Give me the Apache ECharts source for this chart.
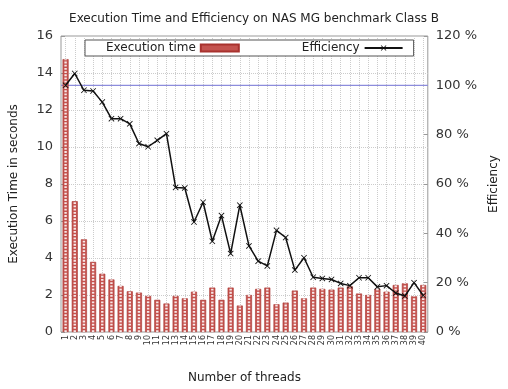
<!DOCTYPE html>
<html><head><meta charset="utf-8">
<script src="https://cdn.jsdelivr.net/npm/echarts@6/dist/echarts.min.js"></script>
<style>html,body{margin:0;padding:0;background:#fff}#c{width:508px;height:389px}</style>
</head><body><div id="c"></div>
<script>
const threads = Array.from({length: 40}, (_, i) => String(i + 1));
const execTime = [14.75, 7.07, 5.01, 3.79, 3.15, 2.84, 2.49, 2.20, 2.13, 1.95,
  1.74, 1.54, 1.95, 1.82, 2.18, 1.74, 2.40, 1.74, 2.40, 1.43,
  2.00, 2.33, 2.40, 1.50, 1.59, 2.24, 1.82, 2.40, 2.33, 2.29,
  2.40, 2.47, 2.08, 2.00, 2.33, 2.18, 2.54, 2.63, 1.93, 2.54];
const efficiency = [100.0, 104.8, 98.0, 97.7, 93.2, 86.5, 86.5, 84.4, 76.4, 75.1,
  77.7, 80.4, 58.6, 58.4, 44.6, 52.6, 36.8, 47.2, 31.8, 51.4,
  34.9, 28.7, 26.8, 41.2, 38.3, 25.1, 30.1, 22.2, 21.7, 21.3,
  19.7, 18.8, 22.0, 22.0, 18.3, 18.8, 15.8, 14.6, 20.0, 14.8];
const refEfficiency = 100;
const timeTicks = {min: 0, max: 16, interval: 2};
const effTicks = {min: 0, max: 120, interval: 20};

const FONT = 'DejaVu Sans';
const chart = echarts.init(document.getElementById('c'));
chart.setOption({
  animation: false,
  backgroundColor: '#fff',
  textStyle: {fontFamily: FONT},
  title: {
    text: 'Execution Time and Efficiency on NAS MG benchmark Class B',
    left: 'center', top: 8,
    textStyle: {fontFamily: FONT, fontSize: 12, fontWeight: 'normal', color: '#222'}
  },
  legend: {
    data: [{name: 'Execution time', icon: 'rect'}, {name: 'Efficiency'}],
    left: 85, top: 40,
    align: 'right',
    itemGap: 62,
    itemWidth: 38, itemHeight: 7,
    padding: [2, 10, 2, 21],
    borderColor: '#555', borderWidth: 1,
    backgroundColor: '#fff',
    textStyle: {fontFamily: FONT, fontSize: 12, color: '#222'}
  },
  grid: {left: 61, right: 70, top: 36, bottom: 55, show: true, borderColor: '#999', borderWidth: 1},
  xAxis: [{
    type: 'category', data: threads,
    name: 'Number of threads', nameLocation: 'middle', nameGap: 40,
    nameTextStyle: {fontFamily: FONT, fontSize: 12, color: '#222'},
    axisLine: {show: false},
    axisTick: {show: false},
    axisLabel: {rotate: 90, fontSize: 8, color: '#333', margin: 3, interval: 0},
    splitLine: {show: true, alignWithLabel: true, lineStyle: {color: '#ccc', type: 'dotted', width: 1}}
  }, {
    type: 'value', min: 0, max: 1, show: false, position: 'top'
  }],
  yAxis: [{
    type: 'value', min: timeTicks.min, max: timeTicks.max, interval: timeTicks.interval,
    name: 'Execution Time in seconds', nameLocation: 'middle', nameGap: 41, nameRotate: 90,
    nameTextStyle: {fontFamily: FONT, fontSize: 12, color: '#222'},
    axisLine: {show: false},
    axisTick: {show: true, inside: true, length: 4, lineStyle: {color: '#999'}},
    axisLabel: {fontSize: 13, color: '#333', margin: 8},
    splitLine: {show: true, lineStyle: {color: '#ccc', type: 'dotted', width: 1}}
  }, {
    type: 'value', min: effTicks.min, max: effTicks.max, interval: effTicks.interval,
    name: 'Efficiency', nameLocation: 'middle', nameGap: 60, nameRotate: 90,
    nameTextStyle: {fontFamily: FONT, fontSize: 12, color: '#222'},
    axisLine: {show: false},
    axisTick: {show: true, inside: true, length: 4, lineStyle: {color: '#999'}},
    axisLabel: {fontSize: 13, color: '#333', margin: 8, formatter: '{value} %'},
    splitLine: {show: false}
  }],
  series: [{
    name: 'ref', type: 'line', xAxisIndex: 1, yAxisIndex: 1,
    data: [[0, refEfficiency], [1, refEfficiency]],
    symbol: 'none', silent: true, z: 1,
    color: '#8c8cdc',
    itemStyle: {color: '#8c8cdc'},
    lineStyle: {color: '#8c8cdc', width: 1.4}
  }, {
    name: 'Execution time', type: 'bar', data: execTime, barWidth: 6, z: 2,
    itemStyle: {color: '#c4534f', borderColor: '#a8322e', borderWidth: 0.6}
  }, {
    name: 'dots', type: 'pictorialBar', data: execTime, barGap: '-100%',
    symbol: 'rect', symbolSize: [2.4, 1.8], symbolRepeat: true, symbolMargin: 0.7,
    symbolClip: true, silent: true, z: 3,
    itemStyle: {color: '#f8e8e8'}
  }, {
    name: 'Efficiency', type: 'line', yAxisIndex: 1, data: efficiency,
    symbol: 'path://M0,1L1,0L5,4L9,0L10,1L6,5L10,9L9,10L5,6L1,10L0,9L4,5Z',
    symbolSize: 6,
    lineStyle: {color: '#111', width: 1.5},
    itemStyle: {color: '#111'},
    z: 5
  }]
});
</script></body></html>
